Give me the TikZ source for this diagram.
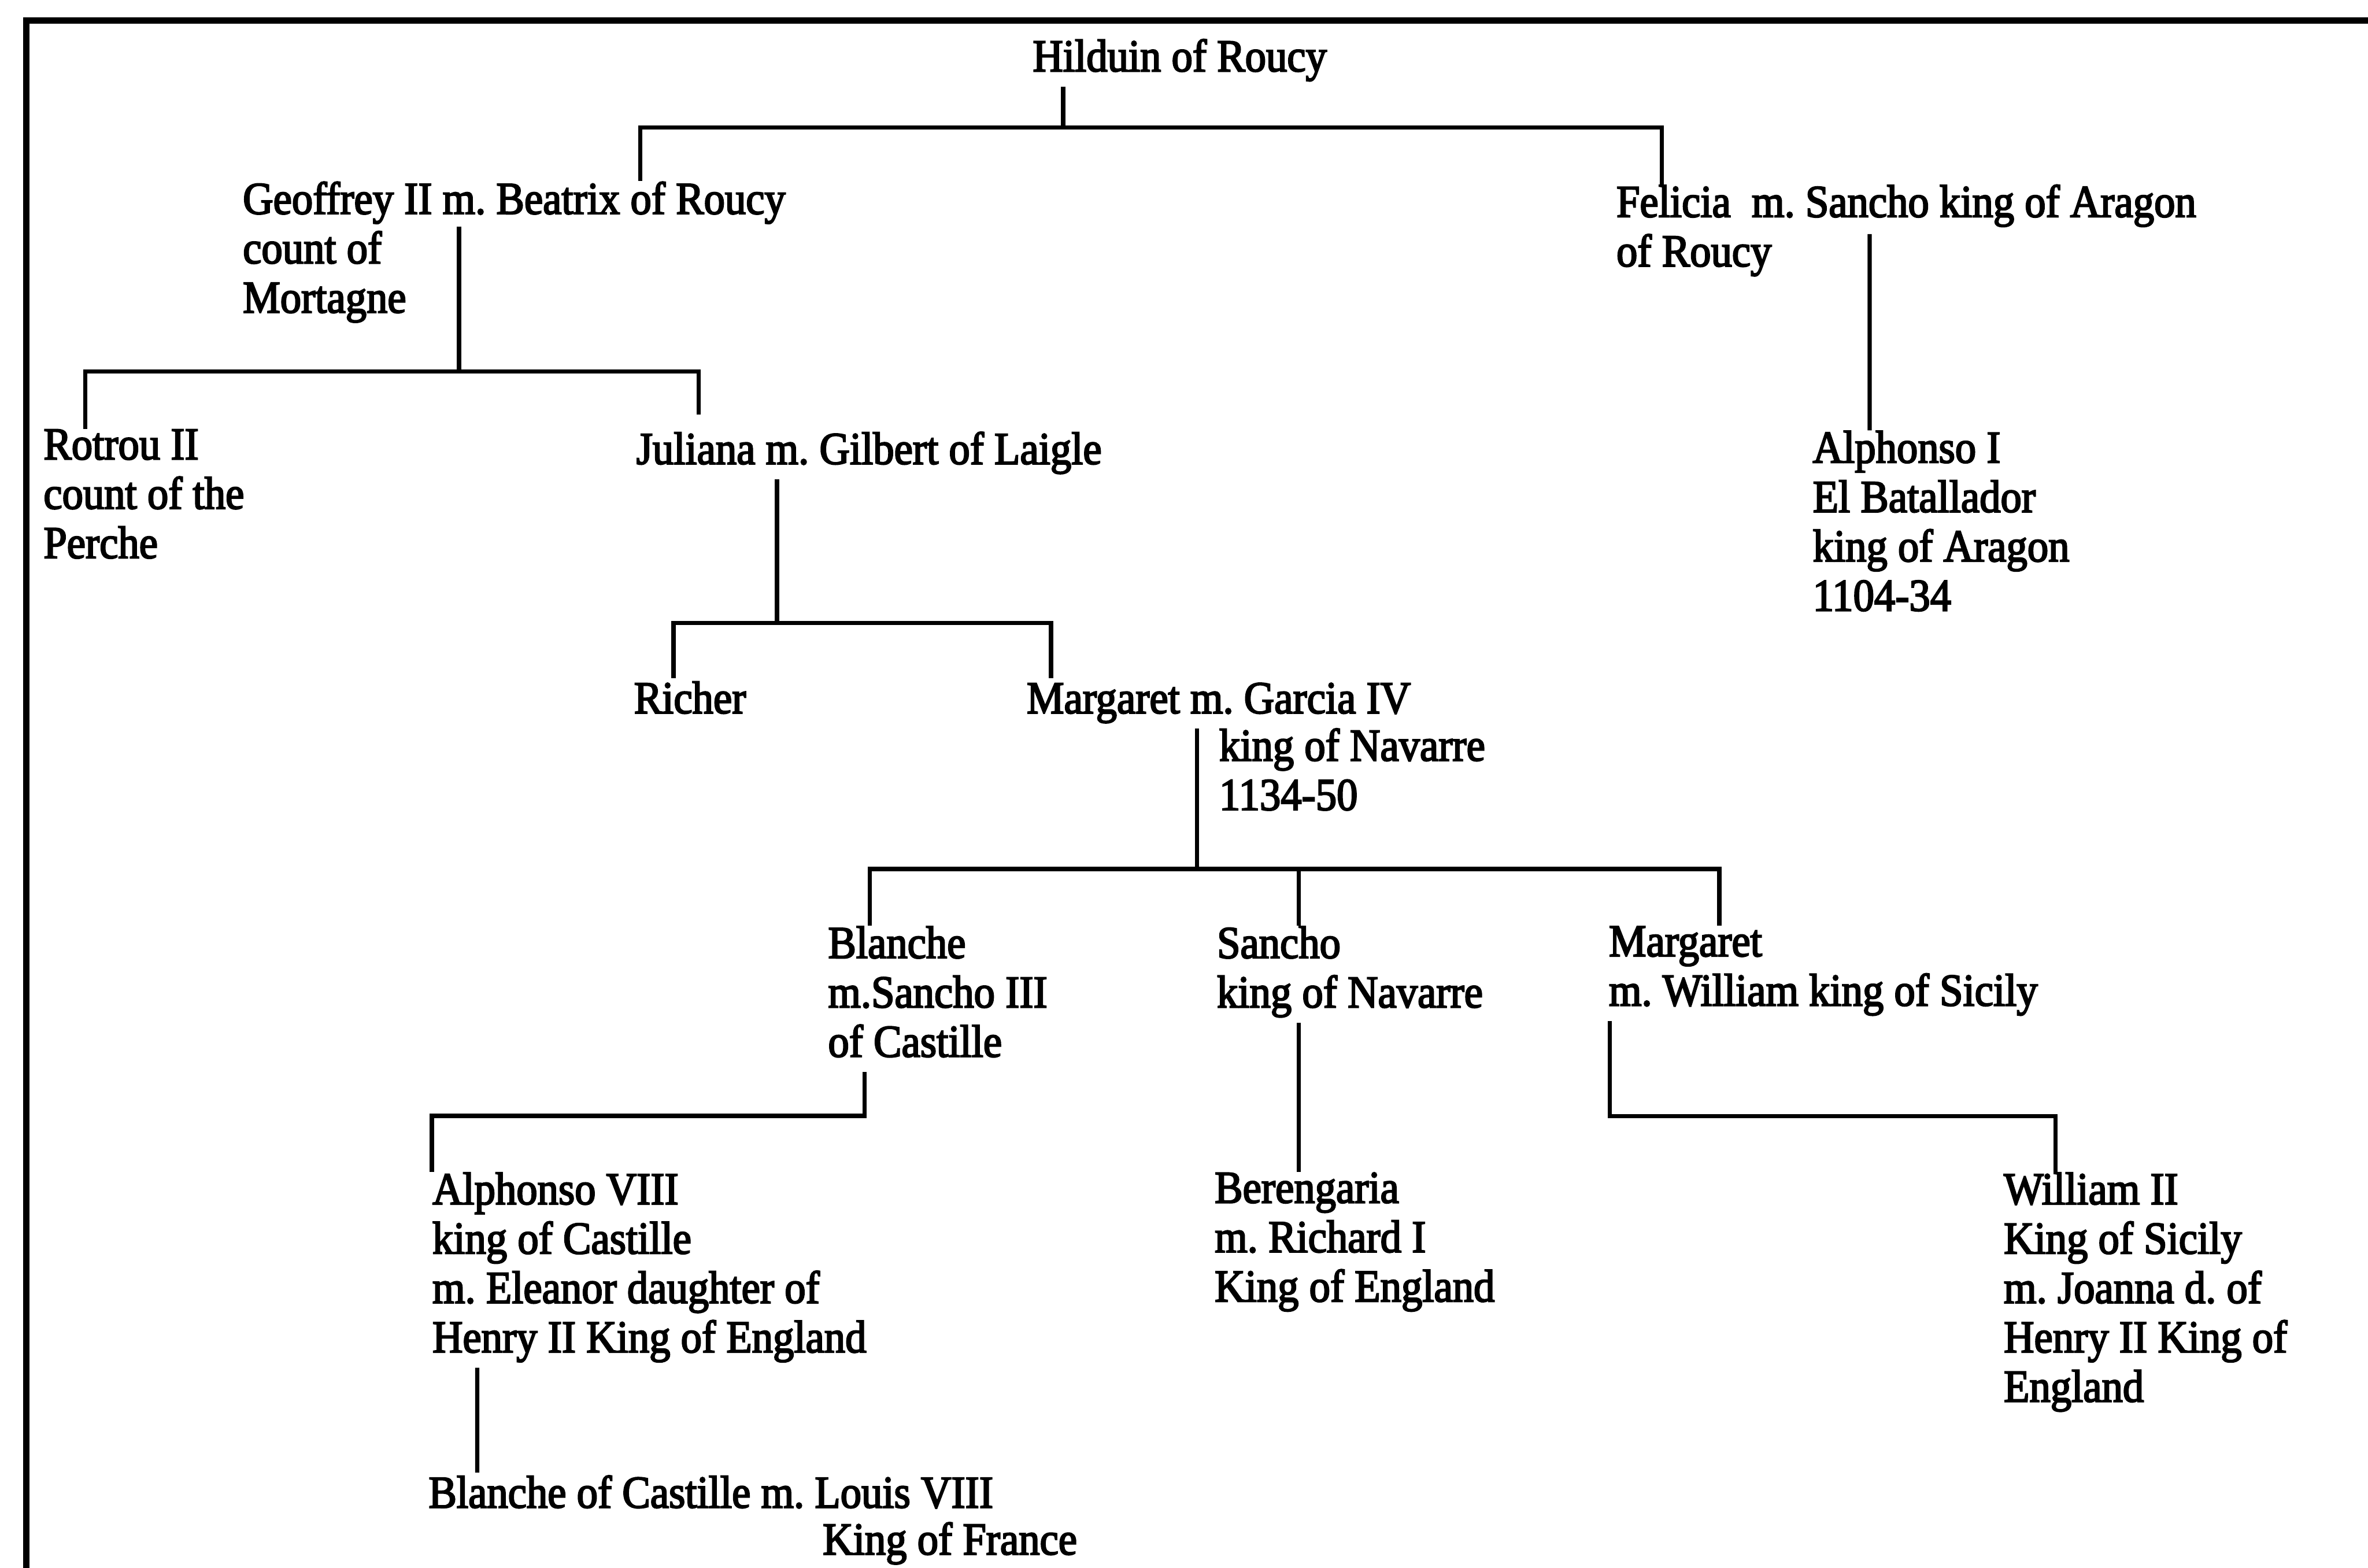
\documentclass[tikz,border=0pt]{standalone}
\usepackage{fontspec}
\setmainfont{Liberation Serif}[FakeStretch=0.92,FakeBold=3]
\usepackage{tikz}

\newcommand{\treefont}{\fontsize{17.2}{18.6}\selectfont\frenchspacing}

\tikzset{person/.style={anchor=north west, inner sep=0pt, align=left,
  font=\treefont, execute at begin node=\strut}}
\tikzset{link/.style={line width=1.6pt}}
\tikzset{frame/.style={line width=2.3pt}}

\begin{document}
\begin{tikzpicture}

	\useasboundingbox (0,0) rectangle (31.36,-20.76);
	\draw[frame] (0.35,-20.76) -- (0.35,-0.27) -- (31.36,-0.27);

	\node[person] (hilduin) at (13.67,-0.48) {Hilduin of Roucy};

	\node[person] (geoffrey) at (3.21,-2.40) {Geoffrey II m. Beatrix of Roucy\\count of\\Mortagne};
	\node[person] (felicia) at (21.40,-2.44) {Felicia\ \ m. Sancho king of Aragon\\of Roucy};

	\node[person] (rotrou) at (0.57,-5.68) {Rotrou II\\count of the\\Perche};
	\node[person] (juliana) at (8.42,-5.68) {Juliana m. Gilbert of Laigle};
	\node[person] (alphonsoI) at (24.00,-5.70) {Alphonso I\\El Batallador\\king of Aragon\\1104-34};

	\node[person] (richer) at (8.39,-8.98) {Richer};
	\node[person] (margaret) at (13.59,-8.98) {Margaret m. Garcia IV};
	\node[person] (garcia) at (16.14,-9.64) {king of Navarre\\1134-50};

	\node[person] (blanche) at (10.96,-12.26) {Blanche\\m.Sancho III\\of Castille};
	\node[person] (sancho) at (16.11,-12.26) {Sancho\\king of Navarre};
	\node[person] (margaretS) at (21.30,-12.26) {Margaret\\m. William king of Sicily};

	\node[person] (alphonsoVIII) at (5.72,-15.52) {Alphonso VIII\\king of Castille\\m. Eleanor daughter of\\Henry II King of England};
	\node[person] (berengaria) at (16.08,-15.52) {Berengaria\\m. Richard I\\King of England};
	\node[person] (william) at (26.53,-15.52) {William II\\King of Sicily\\m. Joanna d. of\\Henry II King of\\England};

	\node[person] (blancheC) at (5.67,-19.50) {Blanche of Castille m. Louis VIII};
	\node[person] (france) at (10.89,-20.12) {King of France};

	% descent lines
	\draw[link] ([xshift=.41cm]hilduin.south west) -- ++(0,-.54) -| ([xshift=5.27cm]geoffrey.north west);
	\draw[link] ([xshift=.41cm]hilduin.south west) -- ++(0,-.54) -| ([xshift=.61cm]felicia.north west);

	\draw[link] ([xshift=2.87cm,yshift=-.60cm]geoffrey.north west) -- ++(0,-1.92) -| ([xshift=.56cm]rotrou.north west);
	\draw[link] ([xshift=2.87cm,yshift=-.60cm]geoffrey.north west) -- ++(0,-1.92) -| ([xshift=.83cm,yshift=.19cm]juliana.north west);

	\draw[link] ([xshift=3.36cm,yshift=-.66cm]felicia.north west) -- ([xshift=.76cm]alphonsoI.north west);

	\draw[link] ([xshift=1.87cm]juliana.south west) -- ++(0,-1.90) -| ([xshift=.53cm]richer.north west);
	\draw[link] ([xshift=1.87cm]juliana.south west) -- ++(0,-1.90) -| ([xshift=.33cm]margaret.north west);

	\draw[link] ([xshift=2.26cm]margaret.south west) -- ++(0,-1.86) -| ([xshift=.56cm]blanche.north west);
	\draw[link] ([xshift=2.26cm]margaret.south west) -- ++(0,-1.86) -| ([xshift=1.09cm]sancho.north west);
	\draw[link] ([xshift=2.26cm]margaret.south west) -- ++(0,-1.86) -| ([xshift=1.47cm]margaretS.north west);

	\draw[link] ([xshift=.49cm]blanche.south west) -- ++(0,-.58) -| (alphonsoVIII.north west);
	\draw[link] ([xshift=1.09cm]sancho.south west) -- ([xshift=1.12cm]berengaria.north west);
	\draw[link] ([xshift=.02cm]margaretS.south west) -- ++(0,-1.26) -| ([xshift=.69cm]william.north west);

	\draw[link] ([xshift=.60cm]alphonsoVIII.south west) -- ([xshift=.65cm]blancheC.north west);

\end{tikzpicture}
\end{document}
